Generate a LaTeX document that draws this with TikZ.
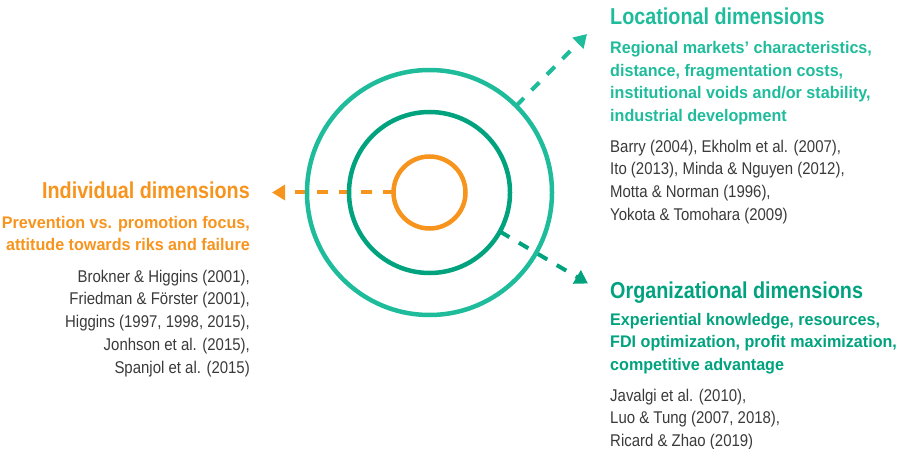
\documentclass[tikz,border=0pt]{standalone}
\usepackage{fontspec}
\usetikzlibrary{arrows.meta,backgrounds}
\newfontfamily\ttlfont[FakeStretch=0.86]{Liberation Sans}
\newfontfamily\subfont[FakeStretch=0.96]{Liberation Sans}
\newfontfamily\citefont[FakeStretch=0.88]{Liberation Sans}
\definecolor{orng}{HTML}{F7941D}
\definecolor{lteal}{HTML}{1FBC9C}
\definecolor{dgreen}{HTML}{00A37E}
\definecolor{citegray}{HTML}{3A3A3A}
\begin{document}
\begin{tikzpicture}[x=1pt,y=-1pt,
  ring/.style={circle, draw, line width=4.5pt, inner sep=0pt, outer sep=0pt},
  ttl/.style={font=\ttlfont\bfseries\fontsize{23}{27}\selectfont, inner sep=0pt},
  sub/.style={font=\subfont\bfseries\fontsize{16.8}{22.5}\selectfont, inner sep=0pt},
  cite/.style={font=\citefont\fontsize{17}{22.8}\selectfont, text=citegray, inner sep=0pt},
  dashar/.style={line width=4pt, dash pattern=on 11pt off 11pt, -{Triangle[length=13pt,width=15pt]}}
]
\useasboundingbox (0,0) rectangle (899,449);

% rings
\node[ring, draw=lteal, minimum size=245pt] (outer) at (429.5,192.5) {};
\node[ring, draw=dgreen, minimum size=161pt] (middle) at (429.5,192.5) {};
\node[ring, draw=orng, minimum size=72pt] (inner) at (429.5,192.5) {};

% arrow end points
\coordinate (indtip) at (272,192.5);
\coordinate (loctip) at (587,34);
\coordinate (orgtip) at (588,283.5);

\begin{scope}[on background layer]
\draw[dashar, orng] (inner.west) -- (indtip);
\draw[dashar, lteal] (outer.45) -- (loctip);
\draw[dashar, dgreen] (middle.-29.5) -- (orgtip);
\end{scope}

% Locational (base anchor = baseline of last line)
\node[ttl, text=lteal, anchor=base west] (loctitle) at (610,25) {Locational dimensions};
\node[sub, text=lteal, anchor=base west, align=left] (locsub) at (610,121.5)
  {Regional markets’ characteristics,\\distance, fragmentation costs,\\institutional voids and/or stability,\\industrial development};
\node[cite, anchor=base west, align=left] (loccite) at (610,220.4)
  {Barry (2004), Ekholm et al. (2007),\\Ito (2013), Minda \& Nguyen (2012),\\Motta \& Norman (1996),\\Yokota \& Tomohara (2009)};

% Individual
\node[ttl, text=orng, anchor=base east] (indtitle) at (250,199) {Individual dimensions};
\node[sub, text=orng, anchor=base east, align=right] (indsub) at (250,250.5)
  {Prevention vs. promotion focus,\\attitude towards riks and failure};
\node[cite, anchor=base east, align=right] (indcite) at (250,373.2)
  {Brokner \& Higgins (2001),\\Friedman \& Förster (2001),\\Higgins (1997, 1998, 2015),\\Jonhson et al. (2015),\\Spanjol et al. (2015)};

% Organizational
\node[ttl, text=dgreen, anchor=base west] (orgtitle) at (610,298) {Organizational dimensions};
\node[sub, text=dgreen, anchor=base west, align=left] (orgsub) at (610,370)
  {Experiential knowledge, resources,\\FDI optimization, profit maximization,\\competitive advantage};
\node[cite, anchor=base west, align=left] (orgcite) at (610,446.6)
  {Javalgi et al. (2010),\\Luo \& Tung (2007, 2018),\\Ricard \& Zhao (2019)};
\end{tikzpicture}
\end{document}
